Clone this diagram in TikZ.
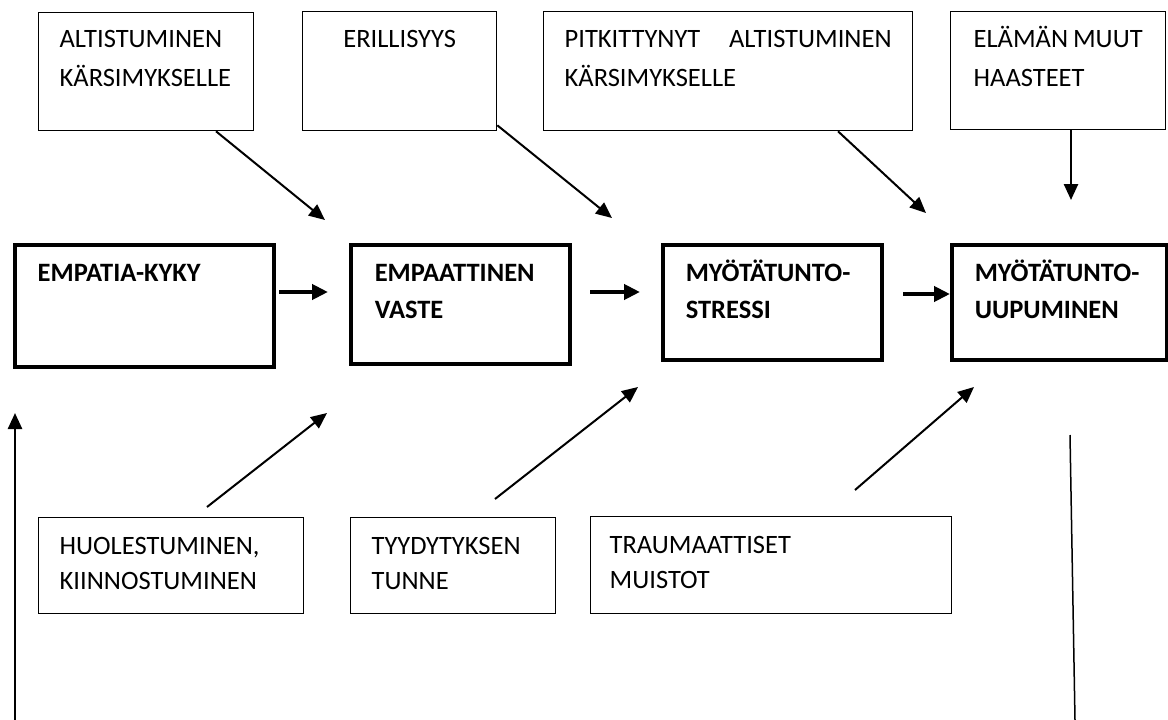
\documentclass[tikz,border=0pt]{standalone}
\usepackage{fontspec}
\setmainfont{Carlito}
\usetikzlibrary{arrows.meta,calc}
\begin{document}
\begin{tikzpicture}[x=1pt,y=-1pt,
  box/.style={draw, anchor=north west, inner ysep=0pt, align=left},
  thinbox/.style={box, line width=1.3pt, font={\fontsize{26.5}{38.5}\selectfont\hyphenpenalty=10000\exhyphenpenalty=10000}},
  thickbox/.style={box, line width=3.5pt, font={\fontsize{26.5}{37}\selectfont\bfseries\hyphenpenalty=10000\exhyphenpenalty=10000}},
  lowbox/.style={box, line width=1.3pt, font={\fontsize{26.5}{35}\selectfont\hyphenpenalty=10000\exhyphenpenalty=10000}},
  arr/.style={-{Triangle[length=16pt,width=14pt]}, line width=2pt},
  harr/.style={-{Triangle[length=16pt,width=15pt]}, line width=4pt},
]
\useasboundingbox (0,0) rectangle (1168,720);
\fill[white] (0,0) rectangle (1168,720);

% top boxes
\node[thinbox, text width=173pt, inner xsep=21pt, text height=35pt, text depth=83pt] (altis) at (38,12) {ALTISTUMINEN\\KÄRSIMYKSELLE};
\node[thinbox, text width=152pt, inner xsep=21pt, text height=36pt, text depth=83pt, align=center] (eril) at (302,11) {ERILLISYYS};
\node[thinbox, text width=327pt, inner xsep=21pt, text height=36pt, text depth=83pt] (pitk) at (543,11) {PITKITTYNYT\hfill ALTISTUMINEN\\KÄRSIMYKSELLE};
\node[thinbox, text width=169pt, inner xsep=23pt, text height=36pt, text depth=82pt] (elam) at (950,11) {ELÄMÄN\hfill MUUT\\HAASTEET};

% middle boxes
\node[thickbox, text width=213pt, inner xsep=23pt, text height=37pt, text depth=85pt] (empkyky) at (13,243) {EMPATIA-KYKY};
\node[thickbox, text width=171pt, inner xsep=24pt, text height=37pt, text depth=82pt] (empvaste) at (349,243) {EMPAATTINEN\\VASTE};
\node[thickbox, text width=173pt, inner xsep=23pt, text height=37pt, text depth=78pt] (stressi) at (661,243) {MYÖTÄTUNTO-\\STRESSI};
\node[thickbox, text width=169pt, inner xsep=23pt, text height=37pt, text depth=78pt] (uupum) at (950,243) {MYÖTÄTUNTO-\\UUPUMINEN};

% bottom boxes
\node[lowbox, text width=223pt, inner xsep=21pt, text height=37pt, text depth=59pt] (huol) at (38,517) {HUOLESTUMINEN,\\KIINNOSTUMINEN};
\node[lowbox, text width=163pt, inner xsep=21pt, text height=37pt, text depth=59pt] (tyyd) at (350,517) {TYYDYTYKSEN\\TUNNE};
\node[lowbox, text width=323pt, inner xsep=19pt, text height=37pt, text depth=60pt] (trauma) at (590,516) {TRAUMAATTISET\\MUISTOT};

% free ends
\coordinate (tA) at (325,220);
\coordinate (tB) at (612,218);
\coordinate (tC) at (926,213);
\coordinate (tD) at (1071,200);
\coordinate (h1s) at (279,292); \coordinate (h1e) at (328,292);
\coordinate (h2s) at (590,292); \coordinate (h2e) at (640,292);
\coordinate (h3s) at (903,294); \coordinate (h3e) at (950,294);
\coordinate (l1s) at (207,507); \coordinate (l1e) at (327,413);
\coordinate (l2s) at (495,499); \coordinate (l2e) at (638,387);
\coordinate (l3s) at (855,490); \coordinate (l3e) at (974,387);
\coordinate (lvs) at (15,720); \coordinate (lve) at (15,413);
\coordinate (rvs) at (1070,435); \coordinate (rve) at (1075,720);

% connectors
\draw[arr] ($(altis.south west)+(178,0)$) -- (tA);
\draw[arr] ($(eril.south east)+(0,-6)$) -- (tB);
\draw[arr] ($(pitk.south west)+(295,0)$) -- (tC);
\draw[arr, line width=2.5pt] ($(elam.south west)+(121,0)$) -- (tD);
\draw[harr] (h1s) -- (h1e);
\draw[harr] (h2s) -- (h2e);
\draw[harr] (h3s) -- (h3e);
\draw[arr] (l1s) -- (l1e);
\draw[arr] (l2s) -- (l2e);
\draw[arr] (l3s) -- (l3e);
\draw[arr, line width=2.5pt] (lvs) -- (lve);
\draw[line width=1.5pt] (rvs) -- (rve);
\end{tikzpicture}
\end{document}
